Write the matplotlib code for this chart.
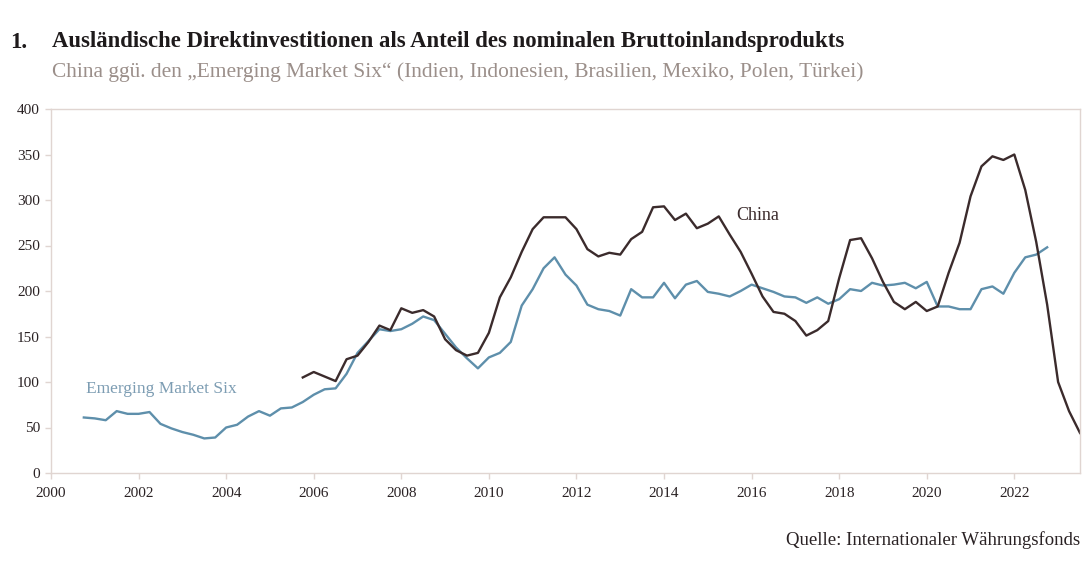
import numpy as np
import matplotlib
matplotlib.use("Agg")
import matplotlib.pyplot as plt

# ---- data (quarterly) ----
ems_start = 2000.75
ems_values = [61, 60, 58, 68, 65, 65, 67, 54, 49, 45, 42, 38, 39, 50, 53, 62, 68, 63, 71, 72,
              78, 86, 92, 93, 109, 132, 145, 158, 156, 158, 164, 172, 168, 153, 138, 126, 115,
              127, 132, 144, 184, 202, 225, 237, 218, 206, 185, 180, 178, 173, 202, 193, 193,
              209, 192, 207, 211, 199, 197, 194, 200, 207, 203, 199, 194, 193, 187, 193, 186,
              191, 202, 200, 209, 206, 207, 209, 203, 210, 183, 183, 180, 180, 202, 205, 197,
              220, 237, 240, 248]
china_start = 2005.75
china_values = [105, 111, 106, 101, 125, 129, 144, 162, 157, 181, 176, 179, 172, 147, 135, 129,
                132, 154, 193, 215, 243, 268, 281, 281, 281, 268, 246, 238, 242, 240, 257, 265,
                292, 293, 278, 285, 269, 274, 282, 262, 243, 219, 194, 177, 175, 167, 151, 157,
                167, 214, 256, 258, 236, 210, 188, 180, 188, 178, 183, 220, 253, 304, 337, 348,
                344, 350, 311, 254, 185, 100, 68, 44]
x_ticks = list(range(2000, 2023, 2))
y_ticks = [0, 50, 100, 150, 200, 250, 300, 350, 400]

title = "Ausländische Direktinvestitionen als Anteil des nominalen Bruttoinlandsprodukts"
subtitle = "China ggü. den \u201eEmerging Market Six\u201c (Indien, Indonesien, Brasilien, Mexiko, Polen, Türkei)"
source = "Quelle: Internationaler Währungsfonds"

ems_x = ems_start + 0.25 * np.arange(len(ems_values))
china_x = china_start + 0.25 * np.arange(len(china_values))

plt.rcParams['font.family'] = ['Liberation Serif', 'DejaVu Serif']

fig = plt.figure(figsize=(10.92, 5.68), dpi=100)
ax = fig.add_axes([51/1092, 95/568, 1029/1092, 364/568])

col_china = "#3b2b2c"
col_ems = "#5e8fab"
spine_col = "#e0d5d1"

ax.plot(ems_x, ems_values, color=col_ems, lw=1.7, solid_joinstyle='round')
ax.plot(china_x, china_values, color=col_china, lw=1.7, solid_joinstyle='round')

ax.set_xlim(2000, 2023.5)
ax.set_ylim(0, 400)
ax.set_xticks(x_ticks)
ax.set_yticks(y_ticks)
ax.set_xticklabels([str(t) for t in x_ticks])
ax.set_yticklabels([str(t) for t in y_ticks])

for s in ax.spines.values():
    s.set_color(spine_col)
    s.set_linewidth(1.0)
ax.tick_params(axis='both', colors=spine_col, length=4, width=1, labelcolor="#2a2224", labelsize=11)
ax.tick_params(axis='x', pad=6)
ax.tick_params(axis='y', pad=4)

ax.text(2015.65, 283, "China", color="#3b2b2c", fontsize=13, va='center', ha='left')
ax.text(2000.8, 92, "Emerging Market Six", color="#7d9db3", fontsize=12.5, va='center', ha='left')

fig.text(10/1092, 1 - 42/568, "1.", fontsize=16.4, fontweight='bold', color="#1e1a1b", va='center', ha='left')
fig.text(52/1092, 1 - 42/568, title, fontsize=16.4, fontweight='bold', color="#1e1a1b", va='center', ha='left')
fig.text(52/1092, 1 - 72/568, subtitle, fontsize=15.4, color="#9b8f8a", va='center', ha='left')
fig.text(1080/1092, 1 - 540/568, source, fontsize=13.5, color="#2a2224", va='center', ha='right')

fig.savefig("out.png", dpi=100)
